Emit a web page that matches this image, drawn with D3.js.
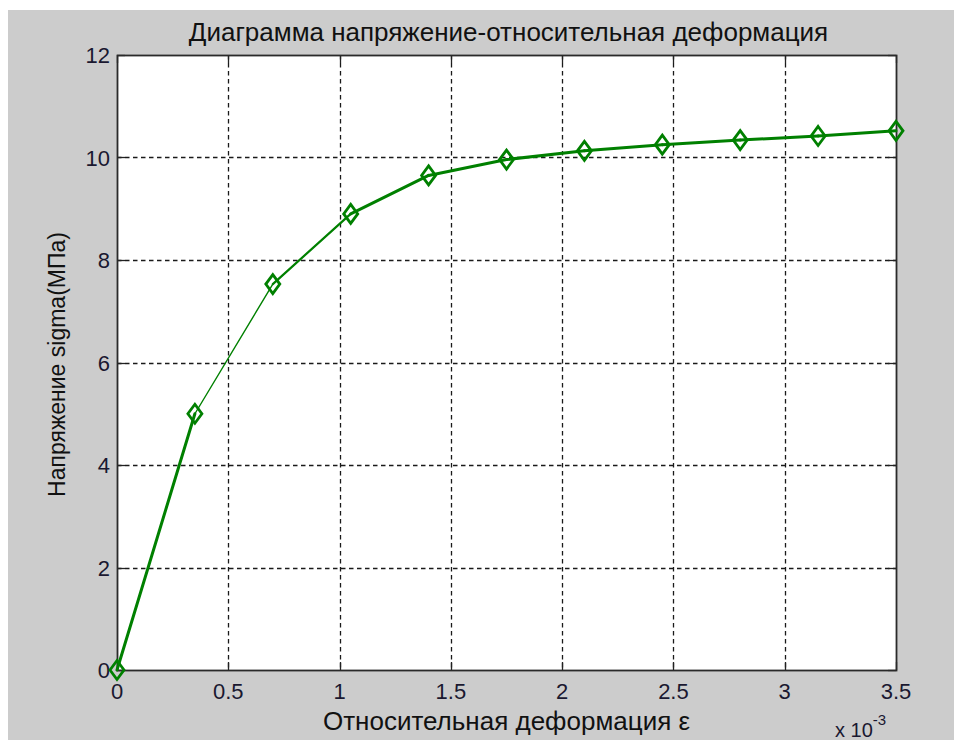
<!DOCTYPE html>
<html>
<head>
<meta charset="utf-8">
<script src="https://cdn.jsdelivr.net/npm/d3@7"></script>
<style>
  html, body { margin: 0; padding: 0; background: #ffffff; }
  svg { display: block; }
  text { font-family: "Liberation Sans", Arial, sans-serif; }
</style>
</head>
<body>
<svg id="chart" width="954" height="740"></svg>
<script>
// ---- data (strain in units of 1e-3, stress in MPa) ----
const strain = [0, 0.35, 0.70, 1.05, 1.40, 1.75, 2.10, 2.45, 2.80, 3.15, 3.50];
const stress = [0, 5.00, 7.53, 8.90, 9.65, 9.96, 10.13, 10.25, 10.34, 10.42, 10.52];
const xTicks = [0, 0.5, 1, 1.5, 2, 2.5, 3, 3.5];
const yTicks = [0, 2, 4, 6, 8, 10, 12];
const titleText = "Диаграмма напряжение-относительная деформация";
const xLabelText = "Относительная деформация ε";
const yLabelText = "Напряжение sigma(МПа)";
const exponentBase = "x 10";
const exponentPow = "-3";

const svg = d3.select("#chart");
const W = 954, H = 740;
const m = { left: 117, right: 896, top: 55, bottom: 670 };

// figure background
svg.append("rect").attr("x", 8).attr("y", 10).attr("width", W - 8).attr("height", H - 10).attr("fill", "#cccccc");
// axes background
svg.append("rect").attr("x", m.left).attr("y", m.top)
  .attr("width", m.right - m.left).attr("height", m.bottom - m.top).attr("fill", "#ffffff");

const x = d3.scaleLinear().domain([0, 3.5]).range([m.left, m.right]);
const y = d3.scaleLinear().domain([0, 12]).range([m.bottom, m.top]);

// grid
const grid = svg.append("g").attr("stroke", "#1a1a1a").attr("stroke-width", 1.3).attr("stroke-dasharray", "4.5,3.5");
grid.selectAll("line.vx").data(xTicks.slice(1, -1)).join("line")
  .attr("x1", d => Math.round(x(d)) + 0.5).attr("x2", d => Math.round(x(d)) + 0.5)
  .attr("y1", m.top).attr("y2", m.bottom);
grid.selectAll("line.hy").data(yTicks.slice(1, -1)).join("line")
  .attr("y1", d => Math.round(y(d)) + 0.5).attr("y2", d => Math.round(y(d)) + 0.5)
  .attr("x1", m.left).attr("x2", m.right);

// ticks (inside, on all four sides)
const tickLen = 8;
const tk = svg.append("g").attr("stroke", "#222").attr("stroke-width", 1.3);
xTicks.forEach(d => {
  const px = Math.round(x(d)) + 0.5;
  tk.append("line").attr("x1", px).attr("x2", px).attr("y1", m.bottom).attr("y2", m.bottom - tickLen);
  tk.append("line").attr("x1", px).attr("x2", px).attr("y1", m.top).attr("y2", m.top + tickLen);
});
yTicks.forEach(d => {
  const py = Math.round(y(d)) + 0.5;
  tk.append("line").attr("y1", py).attr("y2", py).attr("x1", m.left).attr("x2", m.left + tickLen);
  tk.append("line").attr("y1", py).attr("y2", py).attr("x1", m.right).attr("x2", m.right - tickLen);
});

// box
svg.append("rect").attr("x", m.left + 0.5).attr("y", m.top + 0.5)
  .attr("width", m.right - m.left).attr("height", m.bottom - m.top)
  .attr("fill", "none").attr("stroke", "#2a2a2a").attr("stroke-width", 1.8);

// tick labels
svg.append("g").selectAll("text").data(xTicks).join("text")
  .attr("x", d => x(d)).attr("y", m.bottom + 29)
  .attr("text-anchor", "middle").attr("font-size", 22).attr("fill", "#1a1830")
  .text(d => d3.format("")(d));
svg.append("g").selectAll("text").data(yTicks).join("text")
  .attr("x", m.left - 7).attr("y", d => y(d) + 8)
  .attr("text-anchor", "end").attr("font-size", 22).attr("fill", "#1a1830")
  .text(d => d);

// data line (segments)
const segW = i => (i === 1 ? 1.4 : i === 2 ? 2.2 : 3.0);
const pts = strain.map((s, i) => [x(s), y(stress[i])]);
const lineGen = d3.line();
for (let i = 0; i < pts.length - 1; i++) {
  svg.append("path").attr("d", lineGen([pts[i], pts[i + 1]]))
    .attr("fill", "none").attr("stroke", "#008000").attr("stroke-width", segW(i))
    .attr("stroke-linecap", "round");
}
// diamond markers
const hw = 7, hh = 9.5;
svg.append("g").selectAll("path").data(pts).join("path")
  .attr("d", d => `M${d[0]},${d[1] - hh}L${d[0] + hw},${d[1]}L${d[0]},${d[1] + hh}L${d[0] - hw},${d[1]}Z`)
  .attr("fill", "none").attr("stroke", "#008000").attr("stroke-width", 2.8);

// title and labels
svg.append("text").attr("x", (m.left + m.right) / 2 + 2).attr("y", 41)
  .attr("text-anchor", "middle").attr("font-size", 26).attr("fill", "#111").text(titleText);
svg.append("text").attr("x", (m.left + m.right) / 2).attr("y", 730)
  .attr("text-anchor", "middle").attr("font-size", 26).attr("fill", "#111").text(xLabelText);
svg.append("text").attr("transform", `translate(65,${(m.top + m.bottom) / 2 + 2}) rotate(-90)`)
  .attr("text-anchor", "middle").attr("font-size", 23).attr("fill", "#111").text(yLabelText);
const ex = svg.append("text").attr("x", 835).attr("y", 737).attr("font-size", 20).attr("fill", "#1a1830");
ex.append("tspan").text(exponentBase);
ex.append("tspan").attr("dy", -12).attr("font-size", 15).text(exponentPow);
</script>
</body>
</html>
